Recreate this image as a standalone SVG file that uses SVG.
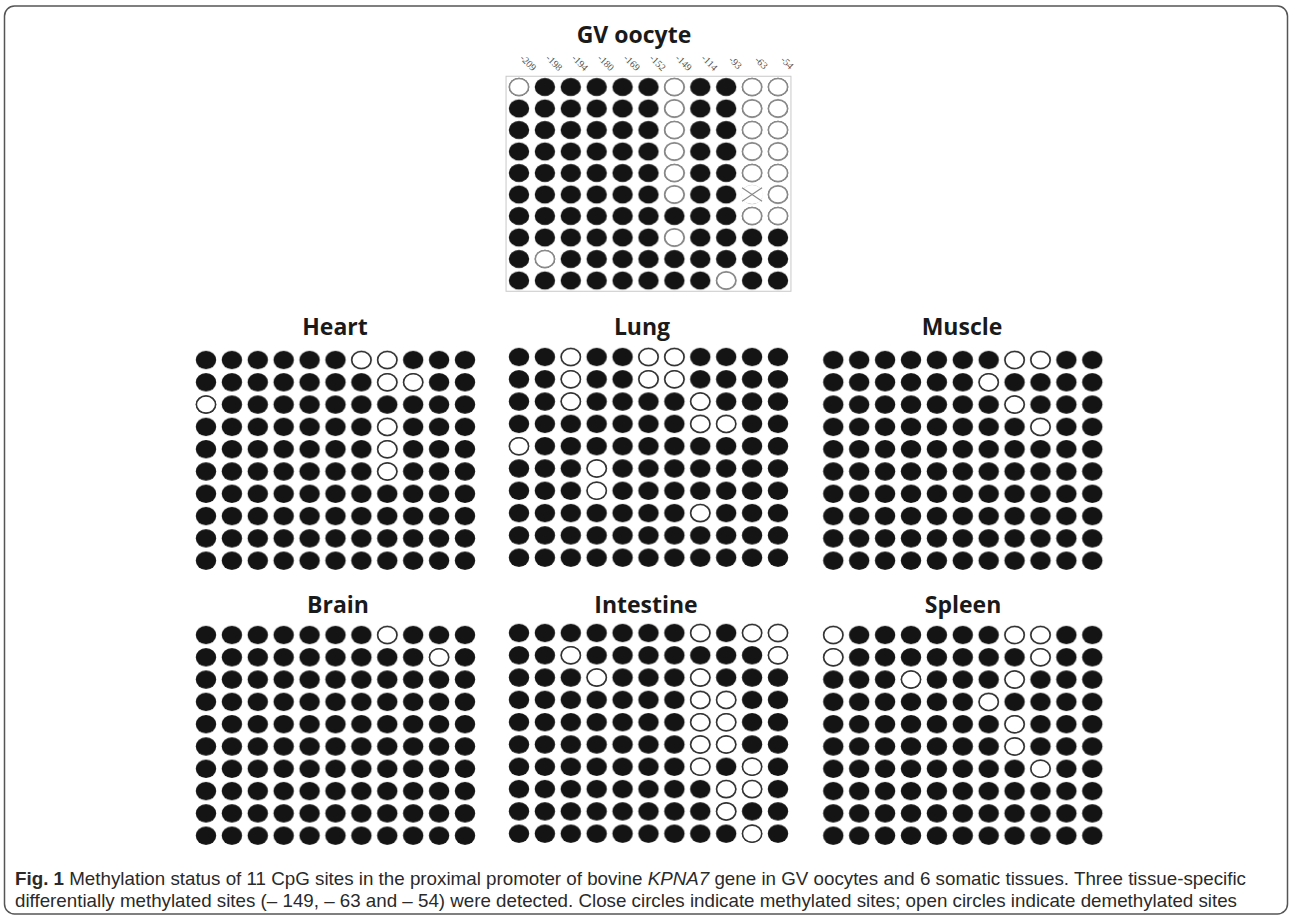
<svg xmlns="http://www.w3.org/2000/svg" xmlns:xlink="http://www.w3.org/1999/xlink" width="1292" height="919" viewBox="0 0 1292 919">
<style>
.ttl{font-family:"Open Sans","Liberation Sans",sans-serif;font-weight:700;font-size:23px;fill:#1a1a1a;text-anchor:middle}
.lbl{font-family:"Liberation Serif",serif;font-size:10px;fill:#555;text-anchor:middle}
.u{fill:#fff;stroke:#333;stroke-width:1.5}
.ug{fill:#fff;stroke:#8a8a8a;stroke-width:1.5}
.cap{font-family:"Liberation Sans",sans-serif;font-size:18.5px;fill:#2a2a2a}
</style>
<defs>
<pattern id="dots" patternUnits="userSpaceOnUse" x="0" y="0" width="25.9" height="22.3"><ellipse cx="12.95" cy="11.15" rx="10.2" ry="9.1" fill="#141414"/></pattern>
<pattern id="dotsGV" patternUnits="userSpaceOnUse" x="0" y="0" width="25.9" height="21.5"><ellipse cx="12.95" cy="10.75" rx="10.2" ry="9" fill="#141414"/></pattern>
<ellipse id="o" cx="0" cy="0" rx="9.6" ry="8.5"/>
</defs>
<rect x="4.5" y="6" width="1283" height="908" rx="10" fill="#fff" stroke="#555" stroke-width="1.5"/>

<g id="gv-oocyte">
<text class="ttl" x="634" y="43">GV oocyte</text>
<text class="lbl" transform="translate(528,63) rotate(45)" dy="3">-209</text>
<text class="lbl" transform="translate(553.9,63) rotate(45)" dy="3">-198</text>
<text class="lbl" transform="translate(579.8,63) rotate(45)" dy="3">-194</text>
<text class="lbl" transform="translate(605.7,63) rotate(45)" dy="3">-180</text>
<text class="lbl" transform="translate(631.6,63) rotate(45)" dy="3">-169</text>
<text class="lbl" transform="translate(657.5,63) rotate(45)" dy="3">-152</text>
<text class="lbl" transform="translate(683.4,63) rotate(45)" dy="3">-149</text>
<text class="lbl" transform="translate(709.3,63) rotate(45)" dy="3">-114</text>
<text class="lbl" transform="translate(735.2,63) rotate(45)" dy="3">-93</text>
<text class="lbl" transform="translate(761.1,63) rotate(45)" dy="3">-63</text>
<text class="lbl" transform="translate(787,63) rotate(45)" dy="3">-54</text>
<g transform="translate(506.05,76.25)">
<rect x="0" y="0" width="284.9" height="215" fill="url(#dotsGV)" stroke="#c8c8c8" stroke-width="1"/>
<use href="#o" class="ug" x="12.95" y="10.75"/>
<use href="#o" class="ug" x="168.35" y="10.75"/><use href="#o" class="ug" x="246.05" y="10.75"/><use href="#o" class="ug" x="271.95" y="10.75"/>
<use href="#o" class="ug" x="168.35" y="32.25"/><use href="#o" class="ug" x="246.05" y="32.25"/><use href="#o" class="ug" x="271.95" y="32.25"/>
<use href="#o" class="ug" x="168.35" y="53.75"/><use href="#o" class="ug" x="246.05" y="53.75"/><use href="#o" class="ug" x="271.95" y="53.75"/>
<use href="#o" class="ug" x="168.35" y="75.25"/><use href="#o" class="ug" x="246.05" y="75.25"/><use href="#o" class="ug" x="271.95" y="75.25"/>
<use href="#o" class="ug" x="168.35" y="96.75"/><use href="#o" class="ug" x="246.05" y="96.75"/><use href="#o" class="ug" x="271.95" y="96.75"/>
<use href="#o" class="ug" x="168.35" y="118.25"/><use href="#o" class="ug" x="271.95" y="118.25"/>
<ellipse cx="246.05" cy="118.25" rx="10.8" ry="9.6" fill="#fff"/>
<path d="M236 111.5 L256 125 M236 125 L256 111.5" stroke="#8a8a8a" stroke-width="1.2" fill="none"/>
<use href="#o" class="ug" x="246.05" y="139.75"/><use href="#o" class="ug" x="271.95" y="139.75"/>
<use href="#o" class="ug" x="168.35" y="161.25"/>
<use href="#o" class="ug" x="38.85" y="182.75"/>
<use href="#o" class="ug" x="220.15" y="204.25"/>
</g>
</g>

<g id="heart">
<text class="ttl" x="335" y="335">Heart</text>
<g transform="translate(193.05,348.85)">
<rect x="0" y="0" width="284.9" height="223" fill="url(#dots)"/>
<use href="#o" class="u" x="168.35" y="11.15"/><use href="#o" class="u" x="194.25" y="11.15"/>
<use href="#o" class="u" x="194.25" y="33.45"/><use href="#o" class="u" x="220.15" y="33.45"/>
<use href="#o" class="u" x="12.95" y="55.75"/>
<use href="#o" class="u" x="194.25" y="78.05"/>
<use href="#o" class="u" x="194.25" y="100.35"/>
<use href="#o" class="u" x="194.25" y="122.65"/>
</g>
</g>

<g id="lung">
<text class="ttl" x="642" y="335">Lung</text>
<g transform="translate(506.05,345.85)">
<rect x="0" y="0" width="284.9" height="223" fill="url(#dots)"/>
<use href="#o" class="u" x="64.75" y="11.15"/><use href="#o" class="u" x="142.45" y="11.15"/><use href="#o" class="u" x="168.35" y="11.15"/>
<use href="#o" class="u" x="64.75" y="33.45"/><use href="#o" class="u" x="142.45" y="33.45"/><use href="#o" class="u" x="168.35" y="33.45"/>
<use href="#o" class="u" x="64.75" y="55.75"/><use href="#o" class="u" x="194.25" y="55.75"/>
<use href="#o" class="u" x="194.25" y="78.05"/><use href="#o" class="u" x="220.15" y="78.05"/>
<use href="#o" class="u" x="12.95" y="100.35"/>
<use href="#o" class="u" x="90.65" y="122.65"/>
<use href="#o" class="u" x="90.65" y="144.95"/>
<use href="#o" class="u" x="194.25" y="167.25"/>
</g>
</g>

<g id="muscle">
<text class="ttl" x="962" y="335">Muscle</text>
<g transform="translate(820.35,348.85)">
<rect x="0" y="0" width="284.9" height="223" fill="url(#dots)"/>
<use href="#o" class="u" x="194.25" y="11.15"/><use href="#o" class="u" x="220.15" y="11.15"/>
<use href="#o" class="u" x="168.35" y="33.45"/>
<use href="#o" class="u" x="194.25" y="55.75"/>
<use href="#o" class="u" x="220.15" y="78.05"/>
</g>
</g>

<g id="brain">
<text class="ttl" x="338" y="613">Brain</text>
<g transform="translate(193.05,623.85)">
<rect x="0" y="0" width="284.9" height="223" fill="url(#dots)"/>
<use href="#o" class="u" x="194.25" y="11.15"/>
<use href="#o" class="u" x="246.05" y="33.45"/>
</g>
</g>

<g id="intestine">
<text class="ttl" x="646" y="613">Intestine</text>
<g transform="translate(506.05,621.85)">
<rect x="0" y="0" width="284.9" height="223" fill="url(#dots)"/>
<use href="#o" class="u" x="194.25" y="11.15"/><use href="#o" class="u" x="246.05" y="11.15"/><use href="#o" class="u" x="271.95" y="11.15"/>
<use href="#o" class="u" x="64.75" y="33.45"/><use href="#o" class="u" x="271.95" y="33.45"/>
<use href="#o" class="u" x="90.65" y="55.75"/><use href="#o" class="u" x="194.25" y="55.75"/>
<use href="#o" class="u" x="194.25" y="78.05"/><use href="#o" class="u" x="220.15" y="78.05"/>
<use href="#o" class="u" x="194.25" y="100.35"/><use href="#o" class="u" x="220.15" y="100.35"/>
<use href="#o" class="u" x="194.25" y="122.65"/><use href="#o" class="u" x="220.15" y="122.65"/>
<use href="#o" class="u" x="194.25" y="144.95"/><use href="#o" class="u" x="246.05" y="144.95"/>
<use href="#o" class="u" x="220.15" y="167.25"/><use href="#o" class="u" x="246.05" y="167.25"/>
<use href="#o" class="u" x="220.15" y="189.55"/>
<use href="#o" class="u" x="246.05" y="211.85"/>
</g>
</g>

<g id="spleen">
<text class="ttl" x="963" y="613">Spleen</text>
<g transform="translate(820.35,623.85)">
<rect x="0" y="0" width="284.9" height="223" fill="url(#dots)"/>
<use href="#o" class="u" x="12.95" y="11.15"/><use href="#o" class="u" x="194.25" y="11.15"/><use href="#o" class="u" x="220.15" y="11.15"/>
<use href="#o" class="u" x="12.95" y="33.45"/><use href="#o" class="u" x="220.15" y="33.45"/>
<use href="#o" class="u" x="90.65" y="55.75"/><use href="#o" class="u" x="194.25" y="55.75"/>
<use href="#o" class="u" x="168.35" y="78.05"/>
<use href="#o" class="u" x="194.25" y="100.35"/>
<use href="#o" class="u" x="194.25" y="122.65"/>
<use href="#o" class="u" x="220.15" y="144.95"/>
</g>
</g>

<g id="connectors"></g>

<g id="caption">
<text class="cap" x="15" y="885" textLength="1231" lengthAdjust="spacingAndGlyphs"><tspan font-weight="700">Fig. 1</tspan> Methylation status of 11 CpG sites in the proximal promoter of bovine <tspan font-style="italic">KPNA7</tspan> gene in GV oocytes and 6 somatic tissues. Three tissue-specific</text>
<text class="cap" x="15" y="907" textLength="1222" lengthAdjust="spacingAndGlyphs">differentially methylated sites (– 149, – 63 and – 54) were detected. Close circles indicate methylated sites; open circles indicate demethylated sites</text>
</g>
</svg>
